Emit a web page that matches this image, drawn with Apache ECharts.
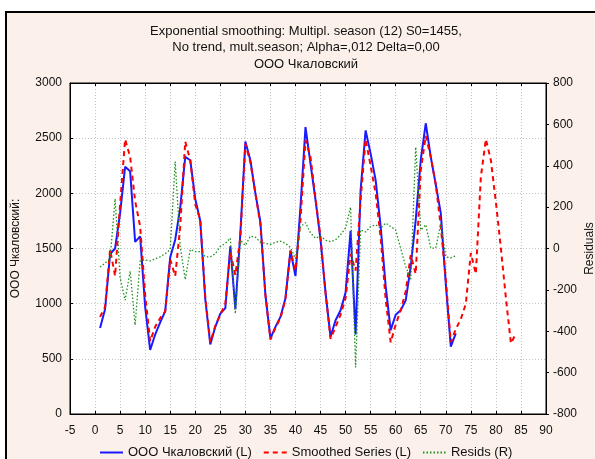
<!DOCTYPE html>
<html>
<head>
<meta charset="utf-8">
<script src="https://cdn.jsdelivr.net/npm/echarts@6/dist/echarts.min.js"></script>
<style>
  html, body { margin: 0; padding: 0; background: #ffffff; }
  #wrap { position: relative; width: 595px; height: 459px; overflow: hidden; }
  #frame {
    position: absolute; left: 5px; top: 11px; width: 600px; height: 460px;
    background: #fcf1ea; border-left: 2px solid #000; border-top: 2px solid #000;
  }
  #chart { position: absolute; left: 0; top: 0; width: 595px; height: 459px; }
</style>
</head>
<body>
<div id="wrap">
  <div id="frame"></div>
  <div id="chart"></div>
</div>
<script>
// Monthly volume, ООО Чкаловский (observations 1..72)
const observed = [
  780, 950, 1450, 1500, 1820, 2240, 2200, 1560, 1610, 970, 580, 720,
  830, 930, 1420, 1580, 1870, 2330, 2300, 1950, 1750, 1040, 630, 790,
  910, 960, 1520, 950, 1640, 2470, 2300, 2000, 1740, 1080, 685, 790,
  880, 1050, 1480, 1250, 1880, 2600, 2270, 1940, 1580, 1100, 700, 850,
  940, 1100, 1660, 720, 2030, 2570, 2360, 2120, 1700, 1160, 760, 900,
  940, 1030, 1335, 1760, 2300, 2635, 2330, 2080, 1820, 1180, 610, 730
];

// Smoothed series with 12-step forecast (1..84)
const smoothed = [
  880, 970, 1490, 1250, 1900, 2490, 2330, 1930, 1700, 1080, 660, 790,
  870, 930, 1400, 1250, 1700, 2470, 2300, 1900, 1760, 1060, 650, 800,
  900, 1000, 1470, 1260, 1600, 2450, 2280, 2000, 1720, 1080, 675, 780,
  870, 1040, 1480, 1300, 1760, 2480, 2330, 1950, 1600, 1100, 680, 790,
  900, 1050, 1450, 1300, 1940, 2490, 2250, 2000, 1600, 1040, 650, 810,
  940, 1110, 1440, 1270, 2210, 2520, 2330, 2080, 1700, 1220, 650, 770,
  860, 1000, 1460, 1270, 2150, 2490, 2300, 1920, 1500, 1050, 640, 730
];

// Residuals (right axis)
const resids = [
  -90, -70, -50, 240, -140, -250, -110, -370, -60, -55, -60, -50,
  -40, -25, -5, 420, 10, -150, -5, -15, -15, -40, -40, -25,
  10, 25, 50, -315, 40, 15, 60, 55, 30, 25, 20, 30,
  35, 25, 5, -50, 105, 125, 75, 50, 60, 40, 33, 42,
  66, 100, 200, -575, 90, 80, 106, 115, 98, 123, 106, 90,
  0, -87, -150, 490, 89, 115, 2, 2, 120, -40, -45, -35
];

const titleLines = [
  'Exponential smoothing: Multipl. season (12) S0=1455,',
  'No trend, mult.season; Alpha=,012 Delta=0,00',
  'ООО Чкаловский'
];
const seriesNames = ['ООО Чкаловский (L)', 'Smoothed Series (L)', 'Resids (R)'];
const leftAxisName = 'ООО Чкаловский:';
const rightAxisName = 'Residuals';

const withIndex = arr => arr.map((v, i) => [i + 1, v]);
const plain = v => String(v);

const FONT = 'Liberation Sans, Arial, sans-serif';
const gridLine = { show: true, lineStyle: { color: '#c4c4c4', type: [1, 2], width: 1 } };
const blackLine = { show: true, onZero: false, lineStyle: { color: '#000', width: 1 } };

const chart = echarts.init(document.getElementById('chart'), null, { renderer: 'canvas' });
chart.setOption({
  backgroundColor: 'transparent',
  animation: false,
  textStyle: { fontFamily: FONT },
  title: {
    text: titleLines.join('\n'),
    left: 306, top: 23, textAlign: 'center', padding: 0,
    textStyle: { fontSize: 13, fontWeight: 'normal', color: '#111', lineHeight: 16.5, fontFamily: FONT }
  },
  legend: {
    left: 99, top: 446, padding: 0, itemWidth: 23, itemHeight: 10, itemGap: 11,
    itemStyle: { opacity: 0, borderWidth: 0 },
    textStyle: { fontSize: 13, color: '#111', fontFamily: FONT },
    data: seriesNames
  },
  grid: {
    left: 70, right: 49, top: 83, bottom: 45,
    outerBoundsMode: 'none', containLabel: false,
    show: true, backgroundColor: '#ffffff', borderColor: '#000', borderWidth: 1
  },
  xAxis: [{
    type: 'value', min: -5, max: 90, interval: 5,
    axisLine: blackLine,
    axisTick: { show: true, inside: true, length: 3, lineStyle: { color: '#000' } },
    axisLabel: { fontSize: 12, color: '#111', margin: 11, fontFamily: FONT, formatter: plain },
    splitLine: gridLine
  }, {
    type: 'value', min: -5, max: 90, interval: 5, position: 'top',
    axisLine: blackLine,
    axisTick: { show: true, inside: true, length: 3, lineStyle: { color: '#000' } },
    axisLabel: { show: false },
    splitLine: { show: false }
  }],
  yAxis: [{
    type: 'value', min: 0, max: 3000, interval: 500,
    name: leftAxisName, nameLocation: 'middle', nameRotate: 90, nameGap: 48,
    nameMoveOverlap: false,
    nameTextStyle: { fontSize: 12, color: '#111', fontFamily: FONT },
    axisLine: blackLine,
    axisTick: { show: true, inside: true, length: 3, lineStyle: { color: '#000' } },
    axisLabel: { fontSize: 12, color: '#111', margin: 8, fontFamily: FONT, formatter: plain },
    splitLine: gridLine
  }, {
    type: 'value', min: -800, max: 800, interval: 200, position: 'right',
    name: rightAxisName, nameLocation: 'middle', nameRotate: 90, nameGap: 38,
    nameMoveOverlap: false,
    nameTextStyle: { fontSize: 12, color: '#111', fontFamily: FONT },
    axisLine: blackLine,
    axisTick: { show: true, inside: false, length: 3, lineStyle: { color: '#000' } },
    axisLabel: { fontSize: 12, color: '#111', margin: 7, fontFamily: FONT, formatter: plain },
    splitLine: { show: false }
  }],
  series: [{
    name: seriesNames[0], type: 'line', xAxisIndex: 0, yAxisIndex: 0,
    data: withIndex(observed), symbol: 'none', showSymbol: false,
    lineStyle: { color: '#1a1aff', width: 2 }, itemStyle: { color: '#1a1aff' }
  }, {
    name: seriesNames[1], type: 'line', xAxisIndex: 0, yAxisIndex: 0,
    data: withIndex(smoothed), symbol: 'none', showSymbol: false,
    lineStyle: { color: '#ff0000', width: 2, type: [5, 4] }, itemStyle: { color: '#ff0000' }
  }, {
    name: seriesNames[2], type: 'line', xAxisIndex: 0, yAxisIndex: 1,
    data: withIndex(resids), symbol: 'none', showSymbol: false,
    lineStyle: { color: '#1f8f1f', width: 1.3, type: [1.5, 2] }, itemStyle: { color: '#1f8f1f' }
  }]
});
</script>
</body>
</html>
